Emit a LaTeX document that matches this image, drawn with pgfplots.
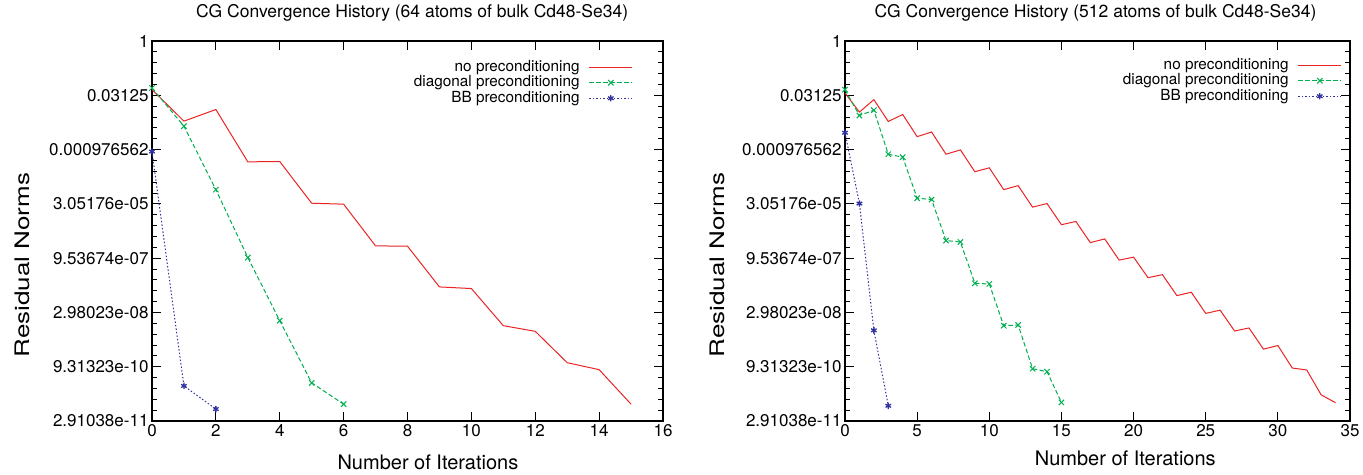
\documentclass[border=0pt]{standalone}
\usepackage{fontspec}
\setmainfont{TeX Gyre Heros}
\usepackage{graphicx}
\usepackage{pgfplots}
\pgfplotsset{compat=1.18}
\definecolor{cred}{RGB}{235,35,35}
\definecolor{cgreen}{RGB}{0,175,80}
\definecolor{cblue}{RGB}{50,50,160}

\tikzset{
  greenline/.style={color=cgreen, line width=1pt, dash pattern=on 4.5pt off 2.5pt, mark=x, mark size=3.8pt, mark options={solid, line width=1pt}},
  blueline/.style={color=cblue, line width=1pt, dash pattern=on 1.5pt off 2pt, mark=asterisk, mark size=3.2pt, mark options={solid, line width=1.3pt}},
}
\pgfplotsset{
  redlegend/.style={legend image code/.code={\draw[draw=cred, line width=1.4pt, solid] (0pt,0pt) -- (43pt,0pt);}},
}

\begin{document}
\begin{tikzpicture}
\path[use as bounding box] (0,0) rectangle (1363pt,474pt);

% Left plot
\begin{axis}[
  at={(152pt,53pt)}, anchor=south west,
  scale only axis, width=511pt, height=380pt,
  ymode=log,
  ymin=2.9103830456733704e-11, ymax=1,
  xmin=0, xmax=16, xtick={0,2,...,16},
  ytick={2.9103830456733704e-11,9.313225746154785e-10,2.9802322387695312e-08,9.5367431640625e-07,3.0517578125e-05,9.765625e-04,0.03125,1},
  yticklabels={2.91038e-11,9.31323e-10,2.98023e-08,9.53674e-07,3.05176e-05,0.000976562,0.03125,1},
  minor ytick={0.5,0.25,0.125,0.0625,0.015625,0.0078125,0.00390625,0.001953125,4.8828125e-4,2.44140625e-4,1.220703125e-4,6.103515625e-5,1.52587890625e-5,7.62939453125e-6,3.814697265625e-6,1.9073486328125e-6,4.76837158203125e-7,2.384185791015625e-7,1.1920928955078125e-7,5.9604644775390625e-8,1.4901161193847656e-8,7.450580596923828e-9,3.725290298461914e-9,1.862645149230957e-9,4.656612873077393e-10,2.3283064365386963e-10,1.1641532182693481e-10,5.820766091346741e-11},
  tick align=inside,
  major tick length=9pt, minor tick length=5pt,
  tick style={black, line width=0.8pt},
  axis line style={line width=1.1pt},
  /pgf/number format/assume math mode=true,
  tick label style={font=\fontsize{17}{20}\selectfont},
  title={CG Convergence History (64 atoms of bulk Cd48-Se34)},
  title style={font=\fontsize{17.5}{20}\selectfont, anchor=center, at={(0.509,1.058)}},
  xlabel={Number of Iterations},
  xlabel style={font=\fontsize{20}{24}\selectfont, anchor=base, at={(0.540,-0.128)}},
  ylabel={\scalebox{1.3}[1]{Residual Norms}},
  ylabel style={font=\fontsize{20}{24}\selectfont, anchor=center, at={(-0.254,0.41)}},
  legend cell align=right,
  legend plot pos=right,
  legend style={draw=none, fill=none, inner sep=0pt, outer sep=0pt,
    font=\fontsize{15.3}{15.5}\selectfont,
    nodes={inner sep=0pt, text height=11pt, text depth=3.5pt},
    row sep=1pt, column sep=9pt,
    at={(1,1)}, anchor=north east, xshift=-30pt, yshift=-19pt},
  legend image code/.code={\draw[mark repeat=2,mark phase=2,#1] plot coordinates {(0pt,0pt) (21.5pt,0pt) (43pt,0pt)};},
]
\addplot[color=cred, solid, line width=1pt, mark=none, redlegend] coordinates {(0,0.04481)(1,0.006004)(2,0.01261)(3,4.462e-4)(4,4.556e-4)(5,3.181e-5)(6,2.989e-5)(7,2.087e-6)(8,2.044e-6)(9,1.519e-7)(10,1.369e-7)(11,1.279e-8)(12,8.922e-9)(13,1.204e-9)(14,7.725e-10)(15,8.524e-11)};
\addlegendentry{no preconditioning}
\addplot[greenline] coordinates {(0,0.04972)(1,0.004364)(2,7.568e-5)(3,9.942e-7)(4,1.760e-8)(5,3.316e-10)(6,8.524e-11)};
\addlegendentry{diagonal preconditioning}
\addplot[blueline] coordinates {(0,8.619e-4)(1,2.731e-10)(2,6.238e-11)};
\addlegendentry{BB preconditioning}
\end{axis}

% Right plot
\begin{axis}[
  at={(845pt,53pt)}, anchor=south west,
  scale only axis, width=505pt, height=380pt,
  ymode=log,
  ymin=2.9103830456733704e-11, ymax=1,
  xmin=0, xmax=35, xtick={0,5,...,35},
  ytick={2.9103830456733704e-11,9.313225746154785e-10,2.9802322387695312e-08,9.5367431640625e-07,3.0517578125e-05,9.765625e-04,0.03125,1},
  yticklabels={2.91038e-11,9.31323e-10,2.98023e-08,9.53674e-07,3.05176e-05,0.000976562,0.03125,1},
  minor ytick={0.5,0.25,0.125,0.0625,0.015625,0.0078125,0.00390625,0.001953125,4.8828125e-4,2.44140625e-4,1.220703125e-4,6.103515625e-5,1.52587890625e-5,7.62939453125e-6,3.814697265625e-6,1.9073486328125e-6,4.76837158203125e-7,2.384185791015625e-7,1.1920928955078125e-7,5.9604644775390625e-8,1.4901161193847656e-8,7.450580596923828e-9,3.725290298461914e-9,1.862645149230957e-9,4.656612873077393e-10,2.3283064365386963e-10,1.1641532182693481e-10,5.820766091346741e-11},
  tick align=inside,
  major tick length=9pt, minor tick length=5pt,
  tick style={black, line width=0.8pt},
  axis line style={line width=1.1pt},
  /pgf/number format/assume math mode=true,
  tick label style={font=\fontsize{17}{20}\selectfont},
  title={CG Convergence History (512 atoms of bulk Cd48-Se34)},
  title style={font=\fontsize{17.5}{20}\selectfont, anchor=center, at={(0.496,1.058)}},
  xlabel={Number of Iterations},
  xlabel style={font=\fontsize{20}{24}\selectfont, anchor=base, at={(0.555,-0.118)}},
  ylabel={\scalebox{1.3}[1]{Residual Norms}},
  ylabel style={font=\fontsize{20}{24}\selectfont, anchor=center, at={(-0.253,0.41)}},
  legend cell align=right,
  legend plot pos=right,
  legend style={draw=none, fill=none, inner sep=0pt, outer sep=0pt,
    font=\fontsize{15.3}{15.5}\selectfont,
    nodes={inner sep=0pt, text height=11pt, text depth=3.5pt},
    row sep=1pt, column sep=9pt,
    at={(1,1)}, anchor=north east, xshift=-8pt, yshift=-17pt},
  legend image code/.code={\draw[mark repeat=2,mark phase=2,#1] plot coordinates {(0pt,0pt) (21.5pt,0pt) (43pt,0pt)};},
]
\addplot[color=cred, solid, line width=1pt, mark=none, redlegend] coordinates {(0,0.03615)(1,0.010672)(2,0.023683)(3,0.0058807)(4,0.009164)(5,0.0022284)(6,0.0030017)(7,7.249e-4)(8,9.565e-4)(9,2.375e-4)(10,3.048e-4)(11,7.568e-5)(12,9.779e-5)(13,2.479e-5)(14,3.116e-5)(15,8.063e-6)(16,9.928e-6)(17,2.570e-6)(18,3.253e-6)(19,8.416e-7)(20,1.015e-6)(21,2.738e-7)(22,3.325e-7)(23,8.727e-8)(24,1.082e-7)(25,2.800e-8)(26,3.447e-8)(27,9.111e-9)(28,1.106e-8)(29,2.863e-9)(30,3.598e-9)(31,8.570e-10)(32,7.564e-10)(33,1.547e-10)(34,9.326e-11)};
\addlegendentry{no preconditioning}
\addplot[greenline] coordinates {(0,0.04481)(1,0.008609)(2,0.012090)(3,7.249e-4)(4,6.012e-4)(5,4.376e-5)(6,4.027e-5)(7,2.931e-6)(8,2.678e-6)(9,1.910e-7)(10,1.833e-7)(11,1.279e-8)(12,1.334e-8)(13,8.221e-10)(14,6.770e-10)(15,9.522e-11)};
\addlegendentry{diagonal preconditioning}
\addplot[blueline] coordinates {(0,0.0028596)(1,3.116e-5)(2,9.496e-9)(3,7.680e-11)};
\addlegendentry{BB preconditioning}
\end{axis}
\end{tikzpicture}
\end{document}
